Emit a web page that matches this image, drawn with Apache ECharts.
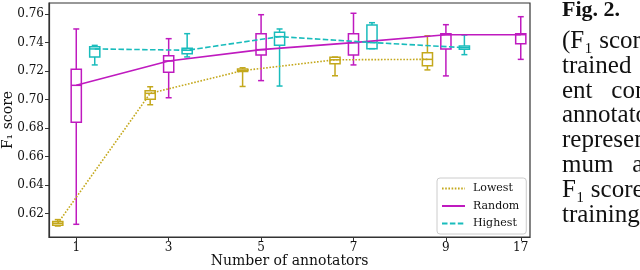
<!DOCTYPE html>
<html>
<head>
<meta charset="utf-8">
<script src="https://cdn.jsdelivr.net/npm/echarts@6/dist/echarts.min.js"></script>
<style>
html,body{margin:0;padding:0;background:#fff;}
#c{width:640px;height:270px;}
</style>
</head>
<body>
<div id="c"></div>
<script>
// ---- data ----
var categories = ['1', '3', '5', '7', '9', '17'];
// axis slot of each category (17 sits closer than the others in the original)
var slots = [1, 3, 5, 7, 9, 10.62];
var yTicks = [0.62, 0.64, 0.66, 0.68, 0.70, 0.72, 0.74, 0.76];
// box stats per category: [whiskerLow, q1, median, q3, whiskerHigh]
var lowestStats = [
  [0.6114, 0.6119, 0.6133, 0.6145, 0.6159],
  [0.6964, 0.7002, 0.7044, 0.7062, 0.7090],
  [0.7092, 0.7197, 0.7203, 0.7214, 0.7223],
  [0.7167, 0.7251, 0.7279, 0.7297, 0.7298],
  [0.7208, 0.7238, 0.7282, 0.7329, 0.7447]
];
var randomStats = [
  [0.6126, 0.6841, 0.7100, 0.7212, 0.7495],
  [0.7013, 0.7191, 0.7271, 0.7308, 0.7427],
  [0.7133, 0.7312, 0.7350, 0.7462, 0.7595],
  [0.7243, 0.7313, 0.7399, 0.7462, 0.7605],
  [0.7166, 0.7354, 0.7455, 0.7461, 0.7525],
  [0.7282, 0.7392, 0.7455, 0.7461, 0.7581]
];
var highestStats = [
  [0.7243, 0.7299, 0.7355, 0.7371, 0.7380],
  [0.7299, 0.7322, 0.7346, 0.7360, 0.7462],
  [0.7095, 0.7381, 0.7441, 0.7472, 0.7495],
  [0.7357, 0.7357, 0.7400, 0.7523, 0.7539],
  [0.7315, 0.7353, 0.7364, 0.7376, 0.7453]
];
var captionLines = ['(F\u2081 score', 'trained ', 'ent   com', 'annotato', 'represent', 'mum   an', 'F\u2081 scores', 'training'];

// ---- styles ----
var cLow = '#c4a81c', cRand = '#bf1abf', cHigh = '#19bcbc';
var serif = 'DejaVu Serif';
var offsets = {Lowest: -0.4, Random: 0, Highest: 0.4};

function boxData(stats, off) {
  return stats.map(function (s, i) { return [slots[i] + off].concat(s); });
}
function lineData(stats, off) {
  return stats.map(function (s, i) { return [slots[i] + off, s[2]]; });
}
function renderBox(color) {
  return function (params, api) {
    var x = api.value(0);
    var lo = api.coord([x, api.value(1)]), q1 = api.coord([x, api.value(2)]),
        md = api.coord([x, api.value(3)]), q3 = api.coord([x, api.value(4)]),
        hi = api.coord([x, api.value(5)]);
    var bw = api.size([0.22, 0])[0], cw = api.size([0.13, 0])[0];
    var cx = lo[0];
    var st = {stroke: color, lineWidth: 1.5, fill: null};
    return {
      type: 'group',
      children: [
        {type: 'line', shape: {x1: cx, y1: lo[1], x2: cx, y2: q1[1]}, style: st},
        {type: 'line', shape: {x1: cx, y1: q3[1], x2: cx, y2: hi[1]}, style: st},
        {type: 'line', shape: {x1: cx - cw / 2, y1: lo[1], x2: cx + cw / 2, y2: lo[1]}, style: st},
        {type: 'line', shape: {x1: cx - cw / 2, y1: hi[1], x2: cx + cw / 2, y2: hi[1]}, style: st},
        {type: 'rect', shape: {x: cx - bw / 2, y: q3[1], width: bw, height: q1[1] - q3[1]}, style: st},
        {type: 'line', shape: {x1: cx - bw / 2, y1: md[1], x2: cx + bw / 2, y2: md[1]}, style: st}
      ]
    };
  };
}

var chart = echarts.init(document.getElementById('c'), null, {renderer: 'canvas'});

var capFont = 25;
var graphics = [{
  type: 'text', left: 562, top: -1,
  style: {text: 'Fig. 2.', font: 'bold 22px "Liberation Serif"', fill: '#111'}
}];
captionLines.forEach(function (t, i) {
  graphics.push({
    type: 'text', left: 562, top: 29 + i * 24.8,
    style: {text: t, font: capFont + 'px "Liberation Serif"', fill: '#111'}
  });
});

chart.setOption({
  animation: false,
  backgroundColor: '#fff',
  grid: {left: 49, right: 110, top: 3, bottom: 33, show: true, borderColor: '#333', borderWidth: 1.2,
    outerBoundsMode: 'none', containLabel: false},
  xAxis: {
    type: 'value', min: 0.41, max: 10.82,
    name: 'Number of annotators', nameLocation: 'middle', nameGap: 17, nameMoveOverlap: false,
    nameTextStyle: {fontFamily: serif, fontSize: 14, color: '#111'},
    axisLine: {lineStyle: {color: '#333', width: 1.2}},
    axisTick: {customValues: slots, length: 4, lineStyle: {color: '#333'}},
    axisLabel: {
      customValues: slots, margin: 5, fontFamily: serif, fontSize: 12, color: '#111',
      formatter: function (v) {
        for (var i = 0; i < slots.length; i++) if (Math.abs(slots[i] - v) < 1e-6) return categories[i];
        return '';
      }
    },
    splitLine: {show: false}
  },
  yAxis: {
    type: 'value', min: 0.6037, max: 0.7677,
    name: 'F\u2081 score', nameLocation: 'middle', nameGap: 34, nameRotate: 90, nameMoveOverlap: false,
    nameTextStyle: {fontFamily: serif, fontSize: 14, color: '#111'},
    axisLine: {show: true, lineStyle: {color: '#333', width: 1.2}},
    axisTick: {show: true, customValues: yTicks, length: 4, lineStyle: {color: '#333'}},
    axisLabel: {customValues: yTicks, margin: 5, fontFamily: serif, fontSize: 12, color: '#111',
      formatter: function (v) { return v.toFixed(2); }},
    splitLine: {show: false}
  },
  legend: {
    data: ['Lowest', 'Random', 'Highest'],
    orient: 'vertical', left: 437, top: 178,
    itemWidth: 23, itemHeight: 10, itemGap: 6.5,
    padding: [5, 7, 5, 4],
    itemStyle: {opacity: 0},
    borderColor: '#ccc', borderWidth: 1, borderRadius: 3, backgroundColor: '#fff',
    textStyle: {fontFamily: serif, fontSize: 11, color: '#111', padding: [0, 0, 0, 3]}
  },
  graphic: graphics,
  series: [
    {name: 'Lowest box', type: 'custom', renderItem: renderBox(cLow), data: boxData(lowestStats, offsets.Lowest), encode: {x: 0, y: [1, 5]}, z: 2, silent: true},
    {name: 'Random box', type: 'custom', renderItem: renderBox(cRand), data: boxData(randomStats, offsets.Random), encode: {x: 0, y: [1, 5]}, z: 2, silent: true},
    {name: 'Highest box', type: 'custom', renderItem: renderBox(cHigh), data: boxData(highestStats, offsets.Highest), encode: {x: 0, y: [1, 5]}, z: 2, silent: true},
    {name: 'Lowest', type: 'line', data: lineData(lowestStats, offsets.Lowest), symbol: 'none', color: cLow,
      lineStyle: {color: cLow, width: 1.6, type: [1.6, 1.6]}, z: 3},
    {name: 'Random', type: 'line', data: lineData(randomStats, offsets.Random), symbol: 'none', color: cRand,
      lineStyle: {color: cRand, width: 1.6}, z: 3},
    {name: 'Highest', type: 'line', data: lineData(highestStats, offsets.Highest), symbol: 'none', color: cHigh,
      lineStyle: {color: cHigh, width: 1.6, type: [5.5, 2.4]}, z: 3}
  ]
});
</script>
</body>
</html>
